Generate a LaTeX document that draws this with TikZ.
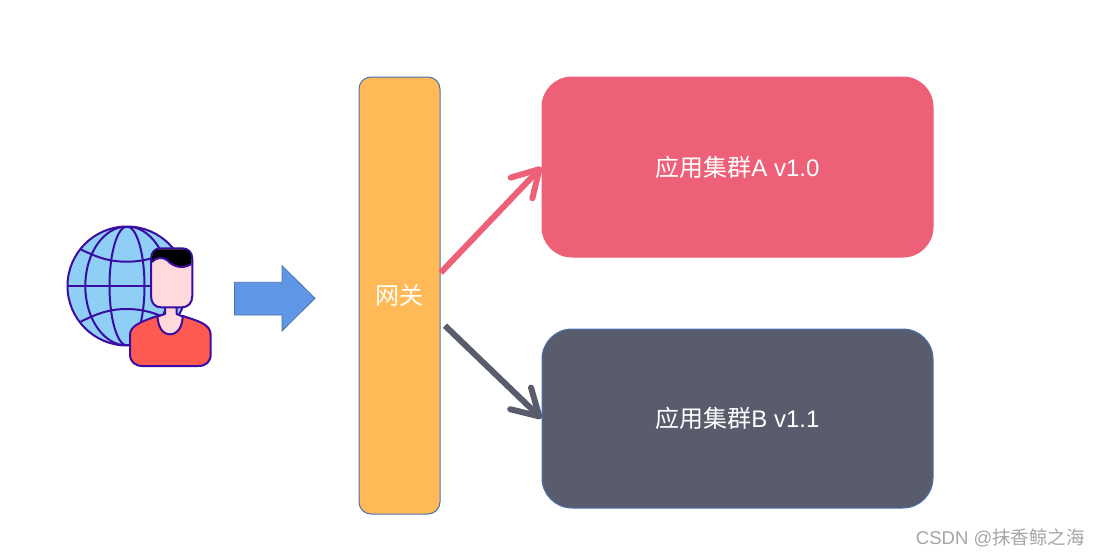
\documentclass[tikz,border=0pt]{standalone}
\usepackage{fontspec}
\setmainfont{Liberation Sans}
\newfontfamily\cjk{Noto Sans CJK SC}
\usetikzlibrary{arrows.meta}
\definecolor{gateOrange}{HTML}{FFB957}
\definecolor{rosePink}{HTML}{EE6077}
\definecolor{slateGrey}{HTML}{595C6C}
\definecolor{edgeBlue}{HTML}{4A72B0}
\definecolor{arrowBlue}{HTML}{5F97E6}
\definecolor{iconInk}{HTML}{3A0CA3}
\definecolor{globeBlue}{HTML}{90CFF5}
\definecolor{skin}{HTML}{FFD9DB}
\definecolor{shirt}{HTML}{FF5A52}
\definecolor{markGrey}{HTML}{A6A6A6}
\tikzset{
  box/.style={rectangle,draw=edgeBlue,line width=1pt,inner sep=0pt,text=white,font=\fontsize{24}{28}\selectfont},
  icon/.style={draw=iconInk,line width=2pt,line join=round},
  flow/.style={line width=6pt,-{Straight Barb[length=26pt,width=30pt,round]}},
}
\begin{document}
\begin{tikzpicture}[x=1pt,y=-1pt]
\useasboundingbox (0,0) rectangle (1100,557);
% globe
\fill[white] (0,0) rectangle (1100,557);
\draw[icon,fill=globeBlue] (127,286) circle [radius=59.5];
\begin{scope}
\clip (127,286) circle [radius=59.5];
\draw[icon] (127,286) ellipse [x radius=41.7,y radius=59.5];
\draw[icon] (127,286) ellipse [x radius=17.5,y radius=59.5];
\draw[icon] (67,286) -- (187,286);
\draw[icon] (80.7,249.3) .. controls (100,259) and (112,261.7) .. (126.7,261.7) .. controls (141,261.7) and (155,259) .. (173,249.3);
\draw[icon] (80.7,321.7) .. controls (100,312) and (112,309) .. (126.7,309) .. controls (141,309) and (155,312) .. (173,321.7);
\end{scope}
% person
\draw[icon,fill=shirt] (130,335) .. controls (130,326) and (140,322) .. (157.3,316) -- (182.7,316) .. controls (198,321) and (210.7,324) .. (210.7,335) -- (210.7,354) .. controls (210.7,362) and (206,366) .. (198,366) -- (143,366) .. controls (135,366) and (130,362) .. (130,354) -- cycle;
\draw[icon,fill=skin] (165,303) -- (165,314) -- (157.5,316.5) .. controls (158,326) and (162,334.3) .. (170,334.3) .. controls (178,334.3) and (182.5,326) .. (182.7,316.5) -- (176.7,314) -- (176.7,303) -- cycle;
\draw[icon,fill=skin] (151,259) .. controls (151,252) and (155,248.3) .. (161,248.3) -- (182,248.3) .. controls (188,248.3) and (192.3,252) .. (192.3,259) -- (192.3,296) .. controls (192.3,303) and (188,307.3) .. (182,307.3) -- (161,307.3) .. controls (155,307.3) and (151,303) .. (151,296) -- cycle;
\fill[black] (152,262) .. controls (156,257) and (163,257) .. (167,260) .. controls (172,266) and (182,270) .. (191.3,264) -- (191.3,259) .. controls (191.3,252) and (188,249.3) .. (182,249.3) -- (161,249.3) .. controls (155,249.3) and (152,252) .. (152,259) -- cycle;
\draw[icon] (152,262) .. controls (156,257) and (163,257) .. (167,260) .. controls (172,266) and (182,270) .. (191.3,264);
% block arrow
\draw[draw=edgeBlue,line width=.8pt,fill=arrowBlue,line join=miter] (234.5,282.3) -- (282,282.3) -- (282,265.7) -- (315,298.3) -- (282,331) -- (282,315) -- (234.5,315) -- cycle;
% boxes
\node[box,fill=gateOrange,rounded corners=12pt,minimum width=81pt,minimum height=437pt] (gate) at (399.5,295.5) {\cjk 网关};
\node[box,draw=rosePink,fill=rosePink,rounded corners=30pt,minimum width=391pt,minimum height=180pt] (clusterA) at (737.5,167) {{\cjk 应用集群}A v1.0};
\node[box,fill=slateGrey,rounded corners=30pt,minimum width=391pt,minimum height=179pt] (clusterB) at (737.5,418.5) {{\cjk 应用集群}B v1.1};
% connectors
\coordinate (fromA) at (440.7,272.7);
\coordinate (fromB) at (445,325.7);
\draw[flow,rosePink] (fromA) -- (clusterA.west);
\draw[flow,slateGrey] (fromB) -- (clusterB.west);
% watermark
\node[text=markGrey,inner sep=0pt,anchor=east,font=\fontsize{18.5}{22}\selectfont] (mark) at (1085,538) {CSDN @{\cjk 抹香鲸之海}};
\end{tikzpicture}
\end{document}
